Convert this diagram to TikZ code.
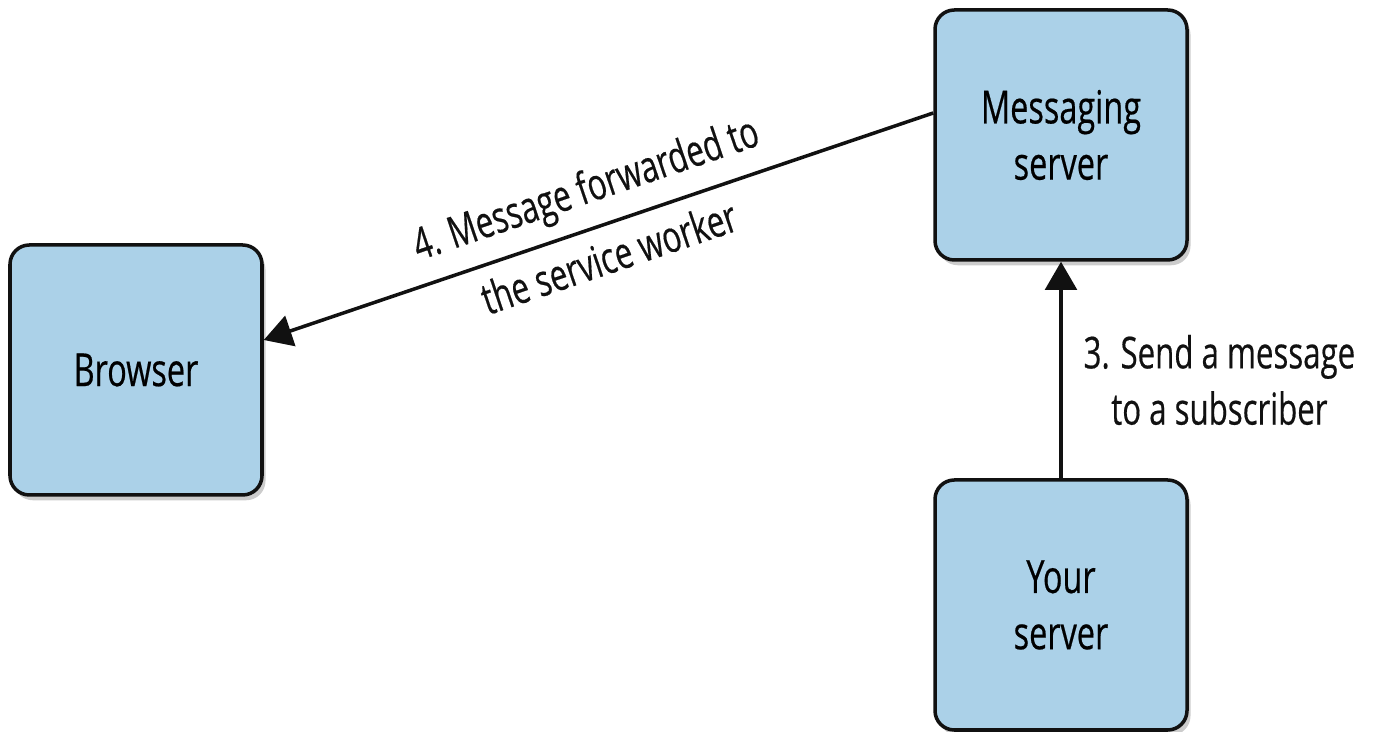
\documentclass[tikz,border=0pt]{standalone}
\usepackage{fontspec}
\setmainfont{Open Sans}[FakeStretch=0.71, FakeBold=0.4]
\usepackage{tikz}
\usetikzlibrary{arrows.meta, positioning, shadows}
\definecolor{boxfill}{HTML}{ABD1E8}
\definecolor{edge}{HTML}{111111}
\tikzset{
    block/.style={rectangle, draw=edge, line width=2pt, fill=boxfill, rounded corners=11pt, minimum width=5.04cm, minimum height=5cm, align=center, font=\fontsize{26}{32}\selectfont, drop shadow={opacity=0.4, shadow xshift=2pt, shadow yshift=-3pt}},
    arrow/.style={-{Triangle[length=16pt, width=18pt]}, line width=2pt, color=edge},
    note/.style={font=\fontsize{25}{32}\selectfont, align=center}
}

\begin{document}
\begin{tikzpicture}
    \useasboundingbox (0,0) rectangle (27.5,14.64);
    % Nodes
    \node [block] (browser) at (2.72,7.24) {Browser};
    \node [block] (msgserver) at (21.22,11.94) {Messaging\\server};
    \node [block] (yourserver) at (21.22,2.54) {Your\\server};

    % Arrows
    \draw [arrow] (yourserver) -- node [note, right=0.3cm, yshift=-0.2cm] {3. Send a message\\to a subscriber} (msgserver);
    \draw [arrow] ([yshift=0.44cm]msgserver.west) -- node [note, sloped, yshift=0.1cm, font=\fontsize{25}{42}\selectfont] {4. Message forwarded to\\the service worker} ([yshift=0.6cm]browser.east);
\end{tikzpicture}
\end{document}
